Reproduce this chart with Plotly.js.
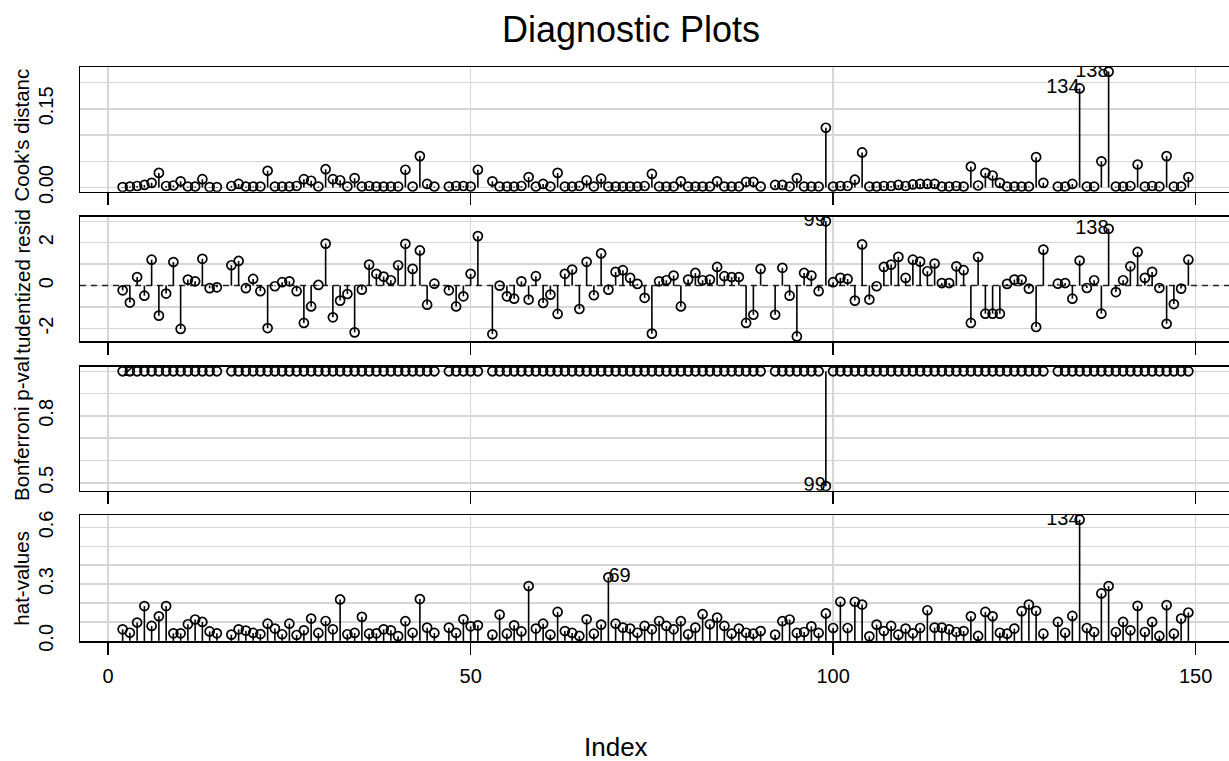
<!DOCTYPE html>
<html><head><meta charset="utf-8">
<script src="https://cdn.plot.ly/plotly-3.0.1.min.js"></script>
<style>html,body{margin:0;padding:0;overflow:hidden;background:#fff}#chart{width:1240px;height:761px}</style>
</head><body><div id="chart"></div>
<script>
// observation indices (rows 1, 16, 46, 52, 91, 130 absent)
const idx = [2,3,4,5,6,7,8,9,10,11,12,13,14,15,
17,18,19,20,21,22,23,24,25,26,27,28,29,30,31,32,33,34,35,36,37,38,39,40,41,42,43,44,45,
47,48,49,50,51,
53,54,55,56,57,58,59,60,61,62,63,64,65,66,67,68,69,70,71,72,73,74,75,76,77,78,79,80,81,82,83,84,85,86,87,88,89,90,
92,93,94,95,96,97,98,99,100,101,102,103,104,105,106,107,108,109,110,111,112,113,114,115,116,117,118,119,120,121,122,123,124,125,126,127,128,129,
131,132,133,134,135,136,137,138,139,140,141,142,143,144,145,146,147,148,149];

const cook = [0.001,0.002,0.003,0.005,0.009,0.028,0.003,0.004,0.012,0.002,0.002,0.016,0.001,0.001,
0.003,0.007,0.002,0.002,0.002,0.032,0.002,0.002,0.002,0.003,0.016,0.013,0.002,0.035,0.016,0.014,0.002,0.018,0.002,0.003,0.002,0.002,0.002,0.002,0.034,0.002,0.060,0.007,0.002,
0.002,0.003,0.003,0.002,0.034,
0.012,0.002,0.002,0.002,0.003,0.020,0.002,0.007,0.002,0.028,0.002,0.002,0.003,0.014,0.002,0.017,0.002,0.002,0.002,0.002,0.002,0.003,0.026,0.002,0.002,0.002,0.012,0.002,0.002,0.002,0.002,0.012,0.002,0.002,0.002,0.011,0.011,0.002,
0.005,0.005,0.002,0.018,0.002,0.002,0.002,0.114,0.002,0.003,0.003,0.015,0.067,0.002,0.002,0.003,0.003,0.005,0.003,0.006,0.007,0.007,0.007,0.002,0.002,0.003,0.002,0.040,0.004,0.028,0.023,0.009,0.002,0.002,0.002,0.002,0.058,0.009,
0.002,0.002,0.007,0.189,0.002,0.002,0.050,0.221,0.002,0.002,0.003,0.044,0.002,0.003,0.002,0.060,0.002,0.002,0.020];

const resid = [-0.22,-0.79,0.40,-0.47,1.21,-1.40,-0.37,1.10,-2.02,0.28,0.20,1.25,-0.12,-0.08,
0.95,1.15,-0.12,0.31,-0.26,-1.98,-0.03,0.16,0.20,-0.26,-1.74,-0.97,0.03,1.96,-1.48,-0.70,-0.39,-2.18,-0.19,0.98,0.55,0.42,0.25,0.95,1.95,0.78,1.64,-0.89,0.09,
-0.22,-0.97,-0.50,0.55,2.31,
-2.26,0.00,-0.50,-0.61,0.20,-0.65,0.44,-0.81,-0.42,-1.32,0.55,0.75,-1.09,1.11,-0.45,1.50,-0.19,0.64,0.72,0.36,0.08,-0.57,-2.24,0.20,0.25,0.47,-0.97,0.28,0.59,0.25,0.28,0.87,0.44,0.40,0.40,-1.74,-1.36,0.78,
-1.36,0.83,-0.47,-2.37,0.59,0.47,-0.26,3.00,0.16,0.36,0.31,-0.70,1.92,-0.65,-0.03,0.87,0.98,1.34,0.36,1.21,1.12,0.67,1.03,0.12,0.12,0.90,0.72,-1.74,1.34,-1.31,-1.31,-1.31,0.08,0.28,0.28,-0.14,-1.93,1.68,
0.09,0.12,-0.61,1.17,-0.11,0.25,-1.31,2.65,-0.30,0.25,0.90,1.57,0.36,0.64,-0.11,-1.78,-0.86,-0.14,1.21];

const bonf = [1,1,1,1,1,1,1,1,1,1,1,1,1,1,
1,1,1,1,1,1,1,1,1,1,1,1,1,1,1,1,1,1,1,1,1,1,1,1,1,1,1,1,1,
1,1,1,1,1,
1,1,1,1,1,1,1,1,1,1,1,1,1,1,1,1,1,1,1,1,1,1,1,1,1,1,1,1,1,1,1,1,1,1,1,1,1,1,
1,1,1,1,1,1,1,0.485,1,1,1,1,1,1,1,1,1,1,1,1,1,1,1,1,1,1,1,1,1,1,1,1,1,1,1,1,1,1,
1,1,1,1,1,1,1,1,1,1,1,1,1,1,1,1,1,1,1];

const hat = [0.061,0.043,0.097,0.184,0.079,0.130,0.184,0.040,0.040,0.088,0.113,0.100,0.050,0.040,
0.033,0.061,0.054,0.042,0.036,0.091,0.065,0.035,0.091,0.031,0.056,0.118,0.042,0.105,0.061,0.219,0.035,0.042,0.127,0.038,0.040,0.061,0.056,0.025,0.104,0.043,0.221,0.070,0.042,
0.070,0.042,0.114,0.077,0.082,
0.033,0.139,0.038,0.082,0.050,0.290,0.065,0.091,0.033,0.153,0.052,0.042,0.026,0.114,0.038,0.086,0.336,0.091,0.070,0.065,0.043,0.079,0.061,0.105,0.079,0.061,0.104,0.035,0.070,0.141,0.088,0.123,0.079,0.038,0.065,0.043,0.038,0.052,
0.033,0.104,0.113,0.042,0.047,0.077,0.042,0.145,0.068,0.207,0.068,0.207,0.192,0.024,0.086,0.052,0.079,0.033,0.065,0.040,0.068,0.162,0.070,0.070,0.061,0.047,0.052,0.130,0.026,0.153,0.130,0.043,0.038,0.065,0.157,0.192,0.159,0.038,
0.100,0.043,0.132,0.641,0.068,0.047,0.251,0.290,0.047,0.100,0.056,0.185,0.047,0.100,0.026,0.189,0.038,0.118,0.150];

const xTicks = [0, 50, 100, 150];
const xTickText = ['0', '50', '100', '150'];
const panelTitles = ["Cook's distanc", "tudentized resid", "Bonferroni p-val", "hat-values"];
const cookTicks = [0, 0.05, 0.10, 0.15, 0.20];
const cookTickText = ['0.00', '', '', '0.15', ''];
const residTicks = [-2, -1, 0, 1, 2, 3];
const residTickText = ['-2', '', '0', '', '2', ''];
const bonfTicks = [0.5, 0.6, 0.7, 0.8, 0.9, 1.0];
const bonfTickText = ['0.5', '', '', '0.8', '', ''];
const hatTicks = [0, 0.1, 0.2, 0.3, 0.4, 0.5, 0.6];
const hatTickText = ['0.0', '', '', '0.3', '', '', '0.6'];
const cookIds = [134, 138];
const residIds = [99, 138];
const bonfIds = [2, 99];
const hatIds = [69, 134];

const FONT = 'Liberation Sans, Arial, Helvetica, sans-serif';
function rrange(v) { const mn = Math.min(...v), mx = Math.max(...v), d = (mx - mn) * 0.04; return [mn - d, mx + d]; }

const panels = [
  {v: cook, base: 0, ticks: cookTicks, text: cookTickText, ids: cookIds, title: panelTitles[0]},
  {v: resid, base: 0, ticks: residTicks, text: residTickText, ids: residIds, title: panelTitles[1]},
  {v: bonf, base: 1, ticks: bonfTicks, text: bonfTickText, ids: bonfIds, title: panelTitles[2]},
  {v: hat, base: 0, ticks: hatTicks, text: hatTickText, ids: hatIds, title: panelTitles[3]}
];
// pixel layout of panels (top offset 67, plot height 574)
const domains = [[0.7828, 1.0], [0.5226, 0.7392], [0.2618, 0.4779], [0.0, 0.2195]];
const titleY = [0.882, 0.627, 0.3706, 0.1098];

const traces = [];
const layout = {
  width: 1240, height: 761,
  margin: {l: 80, r: 9, t: 67, b: 120},
  paper_bgcolor: '#fff', plot_bgcolor: '#fff',
  showlegend: false,
  font: {family: FONT, size: 20, color: '#000'},
  title: {text: 'Diagnostic Plots', font: {family: FONT, size: 36, color: '#000'},
          x: 631 / 1240, xref: 'container', xanchor: 'center', y: 1 - 29 / 761, yref: 'container', yanchor: 'middle'},
  annotations: []
};
const xr = rrange(idx);
const mid = (Math.min(...idx) + Math.max(...idx)) / 2;

panels.forEach((p, k) => {
  const n = k + 1;
  const xa = n === 1 ? 'x' : 'x' + n, ya = n === 1 ? 'y' : 'y' + n;
  if (n === 2) {
    traces.push({type: 'scatter', mode: 'lines', x: xr, y: [0, 0], xaxis: xa, yaxis: ya,
      line: {color: '#222', width: 1.5, dash: '6px,5px'}, hoverinfo: 'skip'});
  }
  const sx = [], sy = [];
  idx.forEach((i, j) => { sx.push(i, i, null); sy.push(p.base, p.v[j], null); });
  traces.push({type: 'scatter', mode: 'lines', x: sx, y: sy, xaxis: xa, yaxis: ya,
    line: {color: '#000', width: 1.6}, hoverinfo: 'skip'});
  traces.push({type: 'scatter', mode: 'markers', x: idx, y: p.v, xaxis: xa, yaxis: ya,
    marker: {symbol: 'circle-open', size: 9, color: '#000', line: {width: 1.7, color: '#000'}}});
  const ly = p.ids.map(id => p.v[idx.indexOf(id)]);
  traces.push({type: 'scatter', mode: 'text', x: p.ids, y: ly, xaxis: xa, yaxis: ya, cliponaxis: true,
    text: p.ids.map(String), textposition: p.ids.map(id => id > mid ? 'middle left' : 'middle right'),
    textfont: {family: FONT, size: 20, color: '#000'}, hoverinfo: 'skip'});
  const yr = rrange(p.v);
  layout[n === 1 ? 'xaxis' : 'xaxis' + n] = {
    domain: [0, 1], anchor: ya, range: xr, tickvals: xTicks, ticktext: xTickText,
    showticklabels: n === 4, ticks: 'outside', ticklen: 12, tickwidth: 1.5, tickcolor: '#000',
    ticklabelstandoff: 4,
    tickfont: {family: FONT, size: 20, color: '#000'},
    showgrid: true, gridcolor: '#d6d6d6', gridwidth: 1.5, zeroline: false,
    showline: true, mirror: true, linecolor: '#000', linewidth: 1.5
  };
  layout[n === 1 ? 'yaxis' : 'yaxis' + n] = {
    domain: domains[k], anchor: xa, range: yr, tickvals: p.ticks, ticktext: p.text,
    tickangle: -90, ticks: '', ticklabelstandoff: 18,
    tickfont: {family: FONT, size: 20, color: '#000'},
    showgrid: true, gridcolor: '#d6d6d6', gridwidth: 1.5, zeroline: false,
    showline: true, mirror: true, linecolor: '#000', linewidth: 1.5
  };
  layout.annotations.push({text: p.title, xref: 'paper', yref: 'paper', x: (21.7 - 80) / 1151, y: titleY[k],
    xanchor: 'center', yanchor: 'middle', textangle: -90, showarrow: false,
    font: {family: FONT, size: 20.5, color: '#000'}});
});
// x-axis title placed as in the reference (below the bottom panel)
layout.annotations.push({text: 'Index', xref: 'paper', yref: 'paper', x: (616 - 80) / 1151, y: (641 - 747) / 574,
  xanchor: 'center', yanchor: 'middle', showarrow: false, font: {family: FONT, size: 26, color: '#000'}});

Plotly.newPlot('chart', traces, layout, {displayModeBar: false, staticPlot: true});
</script></body></html>
